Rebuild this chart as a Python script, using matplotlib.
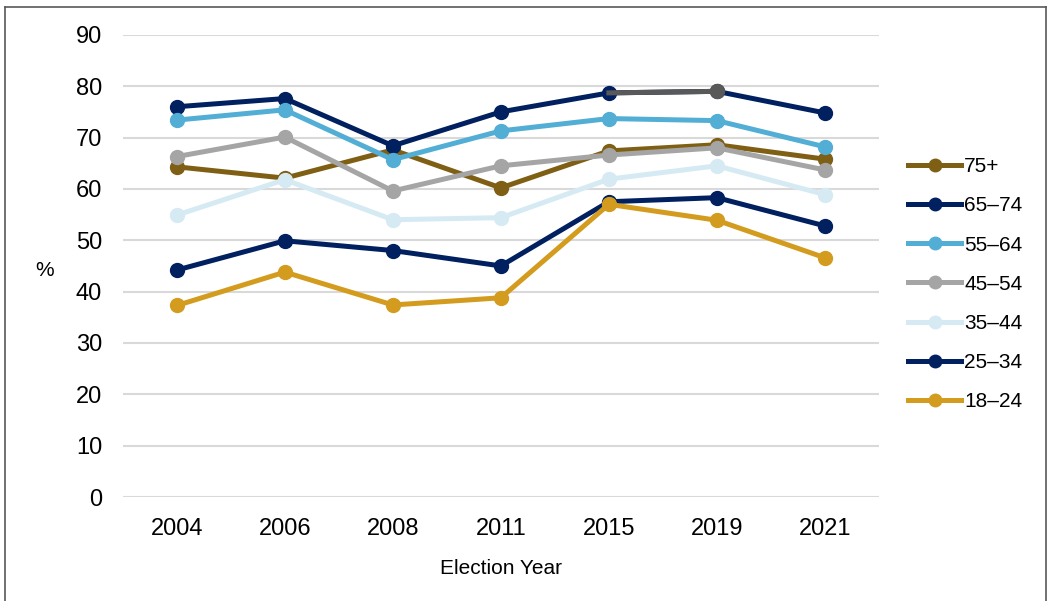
import matplotlib.pyplot as plt
from matplotlib.lines import Line2D

plt.rcParams['font.family'] = ['Liberation Sans', 'DejaVu Sans']

years = ["2004", "2006", "2008", "2011", "2015", "2019", "2021"]
labels = ["75+", "65\u201374", "55\u201364", "45\u201354", "35\u201344", "25\u201334", "18\u201324"]
age_75 = [64.3, 62.1, 67.6, 60.2, 67.4, 68.6, 65.8]
age_65 = [76.0, 77.6, 68.4, 75.0, 78.7, 79.0, 74.8]
age_55 = [73.4, 75.4, 65.7, 71.3, 73.7, 73.3, 68.2]
age_45 = [66.3, 70.1, 59.6, 64.5, 66.6, 68.0, 63.7]
age_35 = [54.9, 61.8, 54.0, 54.4, 61.9, 64.5, 58.9]
age_25 = [44.2, 49.9, 48.0, 45.0, 57.5, 58.3, 52.8]
age_18 = [37.3, 43.8, 37.4, 38.8, 57.0, 53.9, 46.6]
series = [age_75, age_65, age_55, age_45, age_35, age_25, age_18]
colors = ["#7F5F14", "#002060", "#52AED4", "#A5A5A5", "#D6EAF3", "#002060", "#D39C1E"]

fig = plt.figure(figsize=(10.5, 6.01), dpi=100)
ax = fig.add_axes([0.117, 0.173, 0.72, 0.769])
x = list(range(len(years)))

handles = []
for vals, c, lab in zip(series, colors, labels):
    ax.plot(x, vals, color=c, lw=3.6, marker="o", ms=10, solid_capstyle="round", zorder=3)
    handles.append(Line2D([], [], color=c, lw=3.6, marker="o", ms=9, label=lab))
# 65-74 segment 2015-2019 drawn in dark grey in the source
ax.plot(x[4:6], age_65[4:6], color="#595959", lw=3.6, zorder=3)
ax.plot(x[5], age_65[5], color="#595959", marker="o", ms=10, zorder=3)

ax.set_xlim(-0.5, 6.5)
ax.set_ylim(0, 90)
ax.set_yticks(range(0, 91, 10))
ax.set_xticks(x)
ax.set_xticklabels(years)
ax.tick_params(length=0, labelsize=17)
ax.tick_params(axis="x", pad=15)
ax.tick_params(axis="y", pad=15)
ax.grid(axis="y", color="#D9D9D9", lw=1.5, zorder=0)
ax.set_axisbelow(True)
for s in ax.spines.values():
    s.set_visible(False)
ax.set_xlabel("Election Year", fontsize=15, labelpad=14)
fig.text(45 / 1050, 1 - 270 / 601, "%", fontsize=15, ha="center", va="center")

fig.legend(handles=handles, loc="center left", bbox_to_anchor=(0.847, 0.527), frameon=False,
           fontsize=15, handlelength=2.55, labelspacing=0.97, handletextpad=0.15)

# border around chart area
bc = "#595959"
fig.add_artist(Line2D([5 / 1050, 5 / 1050], [0, 1 - 7 / 601], color=bc, lw=1.2))
fig.add_artist(Line2D([5 / 1050, 1046 / 1050], [1 - 7 / 601, 1 - 7 / 601], color=bc, lw=1.2))
fig.add_artist(Line2D([1046 / 1050, 1046 / 1050], [0, 1 - 7 / 601], color=bc, lw=1.2))

fig.savefig("out.png", dpi=100)
